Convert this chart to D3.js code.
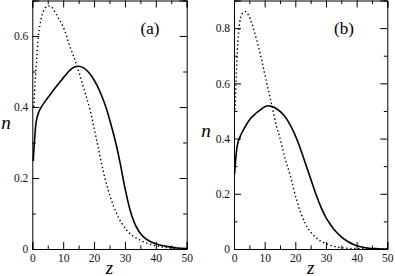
<!DOCTYPE html>
<html><head><meta charset="utf-8">
<script src="https://cdn.jsdelivr.net/npm/d3@7"></script>
<style>
html,body{margin:0;padding:0;background:#fff;}
svg{display:block;}
text{font-family:"Liberation Serif","DejaVu Serif",serif;}
</style></head>
<body>
<svg id="chart" width="395" height="276"></svg>
<script>
// Panel (a)
const aSolidZ = [0.3, 1.2, 2.2, 3.0, 4.5, 5.7, 7.5, 9.0, 10.5, 12.2, 13.5, 14.9, 16.5, 18.0, 19.5, 21.0, 22.5, 24.0, 25.5, 27.0, 28.5, 30.0, 31.5, 33.0, 34.5, 36.0, 38.0, 40.0, 42.0, 44.6, 47, 50];
const aSolidN = [0.248, 0.355, 0.388, 0.401, 0.420, 0.434, 0.455, 0.471, 0.487, 0.504, 0.512, 0.515, 0.511, 0.500, 0.483, 0.460, 0.431, 0.395, 0.350, 0.300, 0.240, 0.172, 0.115, 0.075, 0.050, 0.034, 0.022, 0.015, 0.010, 0.006, 0.003, 0.001];
const aDotZ = [0.5, 1.0, 1.4, 1.95, 2.5, 3.0, 4.0, 5.2, 6.2, 7.3, 8.5, 10.0, 12.2, 14.4, 16.5, 18.7, 21.0, 23.5, 27.3, 30.5, 34.9, 39.2, 43.5, 50];
const aDotN = [0.40, 0.48, 0.53, 0.598, 0.632, 0.654, 0.676, 0.685, 0.682, 0.668, 0.650, 0.626, 0.570, 0.518, 0.457, 0.392, 0.30, 0.20, 0.10, 0.054, 0.025, 0.011, 0.004, 0];
// Panel (b)
const bSolidZ = [0.2, 0.6, 1.0, 2.0, 3.5, 5.2, 6.8, 8.5, 10.0, 11.0, 12.5, 14.0, 16.0, 18.0, 19.5, 21.0, 22.5, 24.0, 25.5, 27.0, 28.5, 30.0, 31.5, 33.0, 35.0, 37.0, 39.0, 41.0, 44.0, 47.0, 50];
const bSolidN = [0.272, 0.33, 0.371, 0.407, 0.440, 0.470, 0.488, 0.503, 0.515, 0.519, 0.516, 0.507, 0.488, 0.456, 0.423, 0.383, 0.336, 0.287, 0.238, 0.190, 0.148, 0.114, 0.088, 0.066, 0.044, 0.028, 0.016, 0.009, 0.003, 0.001, 0];
const bDotZ = [0.33, 0.65, 1.1, 1.7, 2.5, 3.6, 4.7, 5.8, 7.4, 9.0, 10.7, 12.3, 13.9, 15.0, 16.6, 18.3, 20.4, 23.2, 27.0, 31.3, 36.8, 42, 50];
const bDotN = [0.504, 0.60, 0.721, 0.805, 0.848, 0.86, 0.848, 0.818, 0.757, 0.685, 0.60, 0.522, 0.443, 0.401, 0.33, 0.268, 0.178, 0.093, 0.039, 0.014, 0.003, 0.001, 0];

const xTicks = [0, 10, 20, 30, 40, 50];
const xMinor = [5, 15, 25, 35, 45];
const aYTicks = [0, 0.2, 0.4, 0.6];
const aYMinor = [0.1, 0.3, 0.5, 0.7];
const bYTicks = [0, 0.2, 0.4, 0.6, 0.8];
const bYMinor = [0.1, 0.3, 0.5, 0.7, 0.9];

const svg = d3.select("#chart");

function panel(opt) {
  const x = d3.scaleLinear().domain([0, 50]).range([opt.x0, opt.x1]);
  const y = d3.scaleLinear().domain([0, opt.ymax]).range([249, 0.5]);
  const g = svg.append("g");
  const fmtY = d => d === 0 ? "0" : d3.format(".1f")(d);
  const styleAxis = sel => {
    sel.select(".domain").attr("stroke", "#000").attr("stroke-width", 1);
    sel.selectAll(".tick line").attr("stroke", "#000");
    sel.selectAll("text").attr("fill", "#111").style("font-size", "11.5px")
      .style("font-family", '"Liberation Serif", serif');
  };
  // major
  g.append("g").attr("transform", "translate(0,249)")
    .call(d3.axisBottom(x).tickValues(xTicks).tickSize(-7).tickPadding(5).tickFormat(d3.format("d")))
    .call(styleAxis);
  g.append("g").attr("transform", "translate(0,0.5)")
    .call(d3.axisTop(x).tickValues(xTicks).tickSize(-7).tickFormat(""))
    .call(styleAxis);
  g.append("g").attr("transform", `translate(${opt.x0},0)`)
    .call(d3.axisLeft(y).tickValues(opt.yTicks).tickSize(-7).tickPadding(4).tickFormat(fmtY))
    .call(styleAxis);
  g.append("g").attr("transform", `translate(${opt.x1},0)`)
    .call(d3.axisRight(y).tickValues(opt.yTicks).tickSize(-7).tickFormat(""))
    .call(styleAxis);
  // minor
  g.append("g").attr("transform", "translate(0,249)")
    .call(d3.axisBottom(x).tickValues(xMinor).tickSize(-3.5).tickFormat(""))
    .call(styleAxis).select(".domain").remove();
  g.append("g").attr("transform", "translate(0,0.5)")
    .call(d3.axisTop(x).tickValues(xMinor).tickSize(-3.5).tickFormat(""))
    .call(styleAxis).select(".domain").remove();
  g.append("g").attr("transform", `translate(${opt.x0},0)`)
    .call(d3.axisLeft(y).tickValues(opt.yMinor).tickSize(-3.5).tickFormat(""))
    .call(styleAxis).select(".domain").remove();
  g.append("g").attr("transform", `translate(${opt.x1},0)`)
    .call(d3.axisRight(y).tickValues(opt.yMinor).tickSize(-3.5).tickFormat(""))
    .call(styleAxis).select(".domain").remove();

  const line = d3.line().x(d => x(d[0])).y(d => y(d[1])).curve(d3.curveMonotoneX);
  g.append("path").datum(d3.zip(opt.dotZ, opt.dotN))
    .attr("d", line).attr("fill", "none").attr("stroke", "#000")
    .attr("stroke-width", 1.4).attr("stroke-dasharray", "1.4,2.6");
  g.append("path").datum(d3.zip(opt.solidZ, opt.solidN))
    .attr("d", line).attr("fill", "none").attr("stroke", "#000")
    .attr("stroke-width", 1.6);

  g.append("text").attr("x", opt.labX).attr("y", 33.8).attr("text-anchor", "middle")
    .style("font-size", "17px").text(opt.label);
  g.append("text").attr("x", opt.nX).attr("y", opt.nY).attr("text-anchor", "middle")
    .style("font-size", "19px").style("font-style", "italic").text("n");
  g.append("text").attr("x", (opt.x0 + opt.x1) / 2).attr("y", 273.5).attr("text-anchor", "middle")
    .style("font-size", "19px").style("font-style", "italic").text("z");
}

panel({x0: 32.3, x1: 186.7, ymax: 0.7, yTicks: aYTicks, yMinor: aYMinor,
  solidZ: aSolidZ, solidN: aSolidN, dotZ: aDotZ, dotN: aDotN,
  label: "(a)", labX: 150, nX: 6, nY: 128.5});
panel({x0: 234, x1: 387.3, ymax: 0.9, yTicks: bYTicks, yMinor: bYMinor,
  solidZ: bSolidZ, solidN: bSolidN, dotZ: bDotZ, dotN: bDotN,
  label: "(b)", labX: 344, nX: 206, nY: 137});
</script>
</body></html>
